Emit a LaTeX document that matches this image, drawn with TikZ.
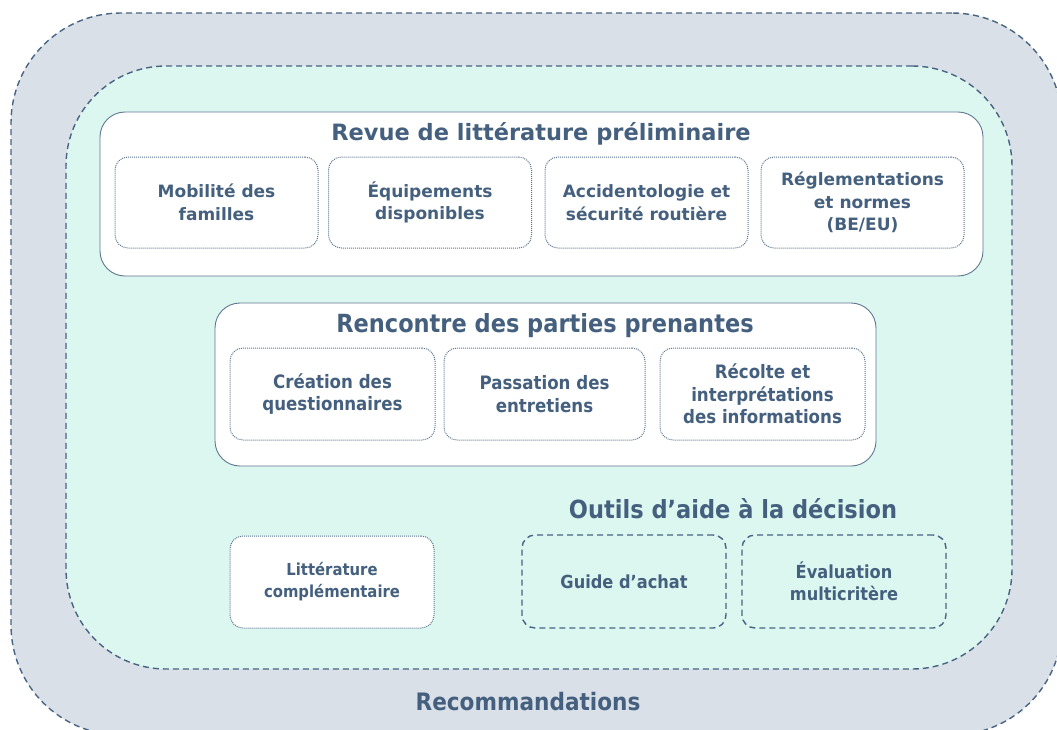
\documentclass[tikz,border=0pt]{standalone}
\usepackage{fontspec}
\setmainfont{DejaVu Sans}
\newfontfamily\cond[FakeStretch=0.9]{DejaVu Sans}
\definecolor{txt}{RGB}{68,96,126}
\definecolor{outerfill}{RGB}{217,224,232}
\definecolor{innerfill}{RGB}{220,246,240}
\definecolor{edge}{RGB}{72,100,130}
\definecolor{dotc}{RGB}{95,120,145}
\tikzset{
  zone/.style={draw=edge, line width=1.4pt, dash pattern=on 6pt off 4pt, inner sep=0pt},
  groupbox/.style={draw=dotc, line width=0.9pt, fill=white, rounded corners=25pt, inner sep=0pt},
  subbox/.style={draw=dotc, line width=1pt, dash pattern=on 1pt off 1pt, rounded corners=13pt, inner sep=0pt, minimum width=203pt, minimum height=91pt, align=center, text=txt, font=\bfseries\fontsize{17}{22.5}\selectfont},
  subboxc/.style={subbox, font=\cond\bfseries\fontsize{18.5}{22.5}\selectfont},
  toolbox/.style={draw=edge, line width=1.4pt, dash pattern=on 6pt off 4pt, rounded corners=13pt, inner sep=0pt, minimum width=204pt, minimum height=93pt, align=center, text=txt, font=\cond\bfseries\fontsize{18}{22.5}\selectfont},
  title/.style={text=txt, inner sep=0pt, font=\bfseries\fontsize{22.5}{26}\selectfont},
  titlec/.style={text=txt, inner sep=0pt, font=\cond\bfseries\fontsize{25}{28}\selectfont}
}
\begin{document}
\begin{tikzpicture}[x=1pt,y=-1pt]
\useasboundingbox (0,0) rectangle (1057,729);
% zones
\node[zone, fill=outerfill, rounded corners=110pt, minimum width=1051pt, minimum height=722pt] (outer) at (536.5,374) {};
\node[zone, fill=innerfill, rounded corners=100pt, minimum width=946pt, minimum height=603pt] (inner) at (539,367.5) {};
% group 1
\node[groupbox, minimum width=883pt, minimum height=164pt] (g1) at (541.5,194) {};
\node[title] (t1) at (541,134) {Revue de littérature préliminaire};
\node[subbox] (s1) at (216.5,202.5) {Mobilité des\\familles};
\node[subbox] (s2) at (430,202.5) {Équipements\\disponibles};
\node[subbox] (s3) at (646.5,202.5) {Accidentologie et\\sécurité routière};
\node[subbox] (s4) at (862.5,202.5) {Réglementations\\et normes\\(BE/EU)};
% group 2
\node[groupbox, minimum width=661pt, minimum height=163pt] (g2) at (545.5,384.5) {};
\node[titlec] (t2) at (545,326) {Rencontre des parties prenantes};
\node[subboxc, minimum width=205pt, minimum height=92pt] (s5) at (332.5,394) {Création des\\questionnaires};
\node[subboxc, minimum width=201pt, minimum height=92pt] (s6) at (544.5,394) {Passation des\\entretiens};
\node[subboxc, minimum width=205pt, minimum height=92pt] (s7) at (762.5,394) {Récolte et\\interprétations\\des informations};
% bottom
\node[subboxc, fill=white, minimum width=204pt, minimum height=92pt, font=\cond\bfseries\fontsize{16.5}{22}\selectfont] (lit) at (332,582) {Littérature\\complémentaire};
\node[titlec] (t3) at (733,509) {Outils d’aide à la décision};
\node[toolbox] (guide) at (624,581.5) {Guide d’achat};
\node[toolbox] (eval) at (844,581.5) {Évaluation\\multicritère};
\node[titlec, font=\cond\bfseries\fontsize{24}{28}\selectfont] (rec) at (528,702) {Recommandations};
\end{tikzpicture}
\end{document}
